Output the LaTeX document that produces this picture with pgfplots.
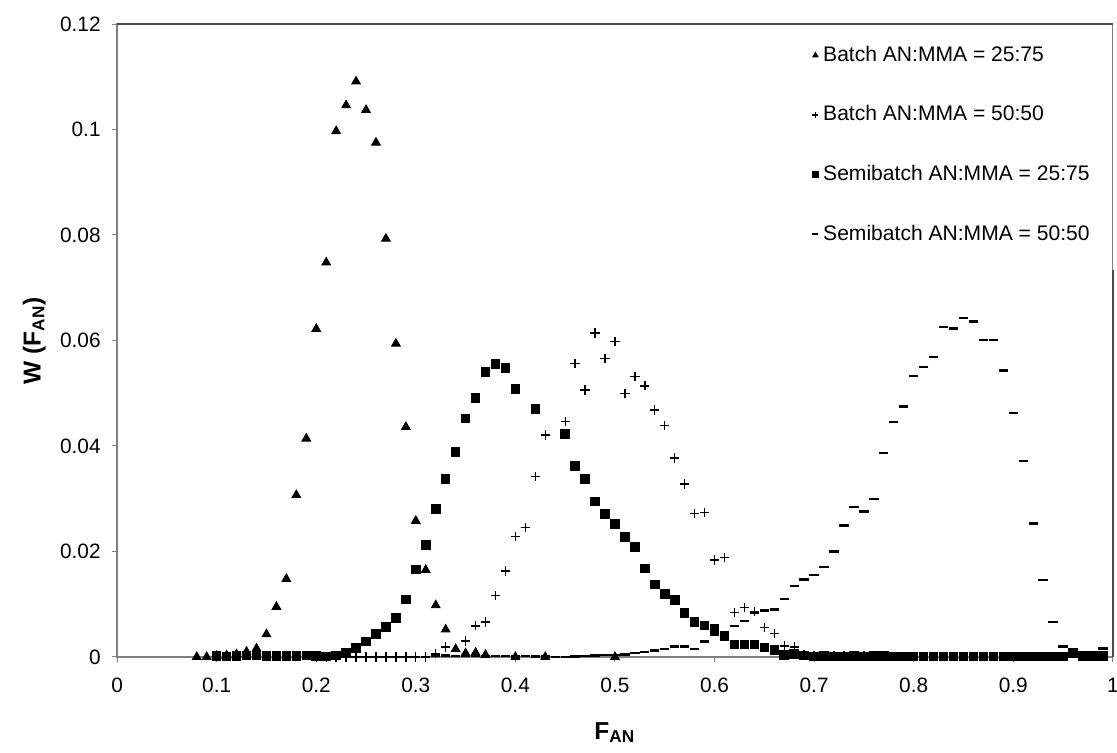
\documentclass[border=0pt]{standalone}
\usepackage{fontspec}
\setmainfont{Liberation Sans}
\usepackage{pgfplots}
\pgfplotsset{compat=1.18}

\pgfplotstableread{
x y
0.08 0.0000
0.09 0.0000
0.10 0.0002
0.11 0.0003
0.12 0.0005
0.13 0.0010
0.14 0.0016
0.15 0.0043
0.16 0.0095
0.17 0.0148
0.18 0.0307
0.19 0.0414
0.20 0.0622
0.21 0.0748
0.22 0.0997
0.23 0.1046
0.24 0.1091
0.25 0.1037
0.26 0.0975
0.27 0.0793
0.28 0.0594
0.29 0.0436
0.30 0.0258
0.31 0.0165
0.32 0.0098
0.33 0.0052
0.34 0.0015
0.35 0.0007
0.36 0.0008
0.37 0.0004
0.40 0.0000
0.43 0.0000
0.50 0.0000
}\batchA

\pgfplotstableread{
x y
0.20 0.0000
0.21 0.0000
0.22 0.0000
0.23 0.0000
0.24 0.0000
0.25 0.0000
0.26 0.0000
0.27 0.0000
0.28 0.0000
0.29 0.0000
0.30 0.0000
0.31 0.0000
0.32 0.0007
0.33 0.0019
0.35 0.0030
0.36 0.0059
0.37 0.0066
0.38 0.0116
0.39 0.0163
0.40 0.0228
0.41 0.0245
0.42 0.0342
0.43 0.0421
0.45 0.0446
0.46 0.0556
0.47 0.0506
0.48 0.0614
0.49 0.0566
0.50 0.0598
0.51 0.0500
0.52 0.0532
0.53 0.0514
0.54 0.0468
0.55 0.0439
0.56 0.0377
0.57 0.0328
0.58 0.0272
0.59 0.0274
0.60 0.0184
0.61 0.0189
0.62 0.0084
0.63 0.0094
0.64 0.0086
0.65 0.0056
0.66 0.0045
0.67 0.0021
0.68 0.0019
0.69 0.0004
0.70 0.0003
0.71 0.0003
0.72 0.0002
0.73 0.0002
0.74 0.0002
0.75 0.0002
0.76 0.0001
0.77 0.0001
0.78 0.0001
0.79 0.0001
0.80 0.0001
}\batchB

\pgfplotstableread{
x y
0.10 0.0002
0.11 0.0001
0.12 0.0002
0.13 0.0003
0.14 0.0003
0.15 0.0002
0.16 0.0002
0.17 0.0002
0.18 0.0002
0.19 0.0003
0.20 0.0002
0.21 0.0001
0.22 0.0003
0.23 0.0008
0.24 0.0017
0.25 0.0029
0.26 0.0044
0.27 0.0057
0.28 0.0074
0.29 0.0109
0.30 0.0166
0.31 0.0212
0.32 0.0281
0.33 0.0337
0.34 0.0389
0.35 0.0452
0.36 0.0491
0.37 0.0540
0.38 0.0555
0.39 0.0548
0.40 0.0508
0.42 0.0470
0.45 0.0423
0.46 0.0362
0.47 0.0337
0.48 0.0295
0.49 0.0271
0.50 0.0252
0.51 0.0227
0.52 0.0208
0.53 0.0168
0.54 0.0137
0.55 0.0119
0.56 0.0108
0.57 0.0083
0.58 0.0066
0.59 0.0060
0.60 0.0053
0.61 0.0040
0.62 0.0024
0.63 0.0024
0.64 0.0024
0.65 0.0018
0.66 0.0013
0.67 0.0004
0.68 0.0006
0.69 0.0003
0.70 0.0001
0.71 0.0002
0.72 0.0001
0.73 0.0001
0.74 0.0002
0.75 0.0001
0.76 0.0002
0.77 0.0002
0.78 0.0001
0.79 0.0001
0.80 0.0001
0.81 0.0001
0.82 0.0001
0.83 0.0001
0.84 0.0001
0.85 0.0001
0.86 0.0001
0.87 0.0001
0.88 0.0001
0.89 0.0001
0.90 0.0001
0.91 0.0001
0.92 0.0001
0.93 0.0001
0.94 0.0001
0.95 0.0001
0.96 0.0008
0.97 0.0002
0.98 0.0002
0.99 0.0002
}\semiA

\pgfplotstableread{
x y
0.32 0.0003
0.33 0.0003
0.34 0.0002
0.35 0.0002
0.36 0.0002
0.37 0.0002
0.38 0.0002
0.39 0.0002
0.40 0.0001
0.41 0.0002
0.42 0.0001
0.43 0.0001
0.44 0.0000
0.45 0.0000
0.46 0.0001
0.47 0.0002
0.48 0.0003
0.49 0.0004
0.50 0.0004
0.51 0.0005
0.52 0.0007
0.53 0.0009
0.54 0.0012
0.55 0.0015
0.56 0.0020
0.57 0.0020
0.58 0.0015
0.59 0.0029
0.60 0.0042
0.61 0.0047
0.62 0.0059
0.63 0.0068
0.64 0.0084
0.65 0.0088
0.66 0.0090
0.67 0.0110
0.68 0.0135
0.69 0.0147
0.70 0.0155
0.71 0.0171
0.72 0.0200
0.73 0.0249
0.74 0.0284
0.75 0.0276
0.76 0.0299
0.77 0.0387
0.78 0.0445
0.79 0.0475
0.80 0.0533
0.81 0.0550
0.82 0.0569
0.83 0.0626
0.84 0.0623
0.85 0.0643
0.86 0.0636
0.87 0.0601
0.88 0.0601
0.89 0.0543
0.90 0.0462
0.91 0.0372
0.92 0.0253
0.93 0.0146
0.94 0.0066
0.95 0.0020
0.96 0.0008
0.97 0.0002
0.98 0.0002
0.99 0.0016
}\semiB

\begin{document}
\begin{tikzpicture}
\useasboundingbox (-47.8pt,-39.2pt) rectangle (408.2pt,268.2pt);
\begin{axis}[
  at={(0,0)}, anchor=south west,
  scale only axis, width=406.5pt, height=258.4pt,
  xmin=0, xmax=1, ymin=0, ymax=0.12,
  xtick={0,0.1,0.2,0.3,0.4,0.5,0.6,0.7,0.8,0.9,1},
  xticklabels={0,0.1,0.2,0.3,0.4,0.5,0.6,0.7,0.8,0.9,1},
  ytick={0,0.02,0.04,0.06,0.08,0.1,0.12},
  yticklabels={0,0.02,0.04,0.06,0.08,0.1,0.12},
  tick align=outside, xtick pos=left, ytick pos=left,
  major tick length=2.2pt,
  tick style={gray, line width=0.4pt},
  axis line style={gray, line width=0.5pt},
  ticklabel style={font=\fontsize{8.5}{10}\selectfont},
  xticklabel style={yshift=-3pt},
  yticklabel style={xshift=-1pt},
  xlabel={F\textsubscript{AN}}, ylabel={W (F\textsubscript{AN})},
  label style={font=\fontsize{10}{12}\selectfont\bfseries},
  xlabel style={yshift=-5pt},
  ylabel style={yshift=-1pt},
  legend style={at={(0.688,0.997)}, anchor=north west, draw=none, fill=white,
    font=\fontsize{8.6}{10}\selectfont, row sep=12.6pt, inner xsep=4pt, inner ysep=6pt,
    legend cell align=left},
  legend image post style={mark size=1.2pt},
  legend image code/.code={\draw[#1] plot coordinates {(0.12cm,0cm)};},
]
\addplot[only marks, mark=triangle*, mark size=2.0pt, black] table {\batchA};
\addlegendentry{Batch AN:MMA = 25:75}
\addplot[only marks, mark=+, mark size=1.9pt, black, line width=0.55pt] table {\batchB};
\addlegendentry{Batch AN:MMA = 50:50}
\addplot[only marks, mark=square*, mark size=1.75pt, black] table {\semiA};
\addlegendentry{Semibatch AN:MMA = 25:75}
\addplot[only marks, mark=-, mark size=1.9pt, black, line width=1pt] table {\semiB};
\addlegendentry{Semibatch AN:MMA = 50:50}
\end{axis}
\draw[black!70, line width=0.6pt] (0pt,258.4pt) -- (406.5pt,258.4pt);
\draw[black!70, line width=0.6pt] (406.5pt,0pt) -- (406.5pt,158pt);
\end{tikzpicture}
\end{document}
